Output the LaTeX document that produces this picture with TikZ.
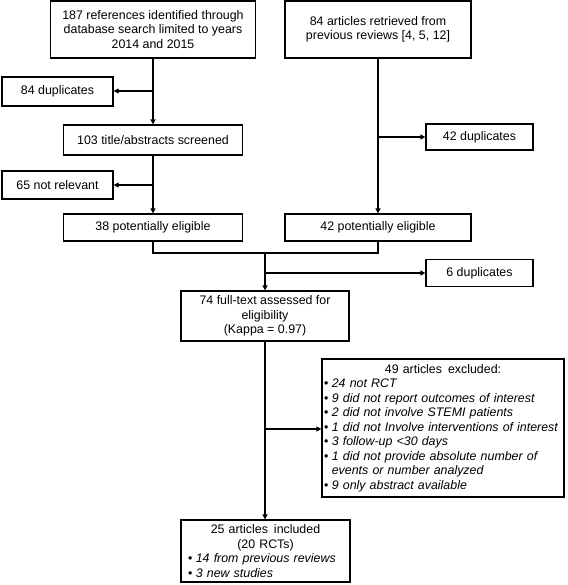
\documentclass[tikz,border=0pt]{standalone}
\usepackage{fontspec}
\setmainfont{Liberation Sans}
\usetikzlibrary{arrows.meta}
\newcommand{\bul}{\textbullet\hspace{3.5pt}}
\begin{document}
\begin{tikzpicture}[x=1pt,y=-1pt,
  box/.style={draw, line width=1.2pt, inner sep=0pt, align=center, font=\fontsize{12.4}{14.5}\selectfont},
  conn/.style={line width=1.2pt},
  arr/.style={line width=1.2pt, -{Triangle[length=5pt,width=5pt]}}]
\useasboundingbox (0,0) rectangle (567,585);
% nodes
\node[box, minimum width=205, minimum height=57] (b1) at (153,29.5) {187 references identified through\\database search limited to years\\2014 and 2015};
\node[box, minimum width=186, minimum height=57] (b2) at (378,29.5) {84 articles retrieved from\\previous reviews [4, 5, 12]};
\node[box, minimum width=111, minimum height=29] (d84) at (57.5,91.5) {84 duplicates};
\node[box, minimum width=179, minimum height=30] (t103) at (153,140) {103 title/abstracts screened};
\node[box, minimum width=107, minimum height=26] (d42) at (479.5,137) {42 duplicates};
\node[box, minimum width=111, minimum height=28] (n65) at (57.5,185) {65 not relevant};
\node[box, minimum width=179, minimum height=27] (p38) at (153,227.5) {38 potentially eligible};
\node[box, minimum width=186, minimum height=27] (p42) at (378,227.5) {42 potentially eligible};
\node[box, minimum width=107, minimum height=27] (d6) at (479.5,273) {6 duplicates};
\node[box, minimum width=168, minimum height=50] (f74) at (265,316) {74 full-text assessed for\\eligibility\\(Kappa = 0.97)};
\node[box, minimum width=242, minimum height=138, text width=238, align=left] (e49) at (443,428) {%
\makebox[238pt][c]{49 articles\hspace{6pt}excluded:}\\
\bul\textit{24 not RCT}\\
\bul\textit{9 did not report outcomes of interest}\\
\bul\textit{2 did not involve STEMI patients}\\
\bul\textit{1 did not Involve interventions of interest}\\
\bul\textit{3 follow-up <30 days}\\
\bul\textit{1 did not provide absolute number of}\\
\phantom{\bul}\textit{events or number analyzed}\\
\bul\textit{9 only abstract available}};
\node[box, minimum width=169, minimum height=62, text width=155, align=left] (i25) at (265.5,551) {%
\makebox[155pt][c]{25 articles\hspace{6pt}included}\\
\makebox[155pt][c]{(20 RCTs)}\\
\bul\textit{14 from previous reviews}\\
\bul\textit{3 new studies}};
% junction coordinates
\coordinate (j1) at (153,91);
\coordinate (j2) at (153,185);
\coordinate (j3) at (378,137);
\coordinate (m) at (265,253);
\coordinate (j4) at (265,273);
\coordinate (j5) at (265,429);
% connectors
\draw[arr] (b1.south) -- (t103.north);
\draw[arr] (j1) -- (d84.east |- j1);
\draw[arr] (t103.south) -- (p38.north);
\draw[arr] (j2) -- (n65.east |- j2);
\draw[arr] (b2.south) -- (p42.north);
\draw[arr] (j3) -- (d42.west |- j3);
\draw[conn] (p38.south) |- (m) -| (p42.south);
\draw[arr] (m) -- (f74.north);
\draw[arr] (j4) -- (d6.west);
\draw[arr] (f74.south) -- (i25.north -| f74.south);
\draw[arr] (j5) -- (e49.west |- j5);
\end{tikzpicture}
\end{document}
